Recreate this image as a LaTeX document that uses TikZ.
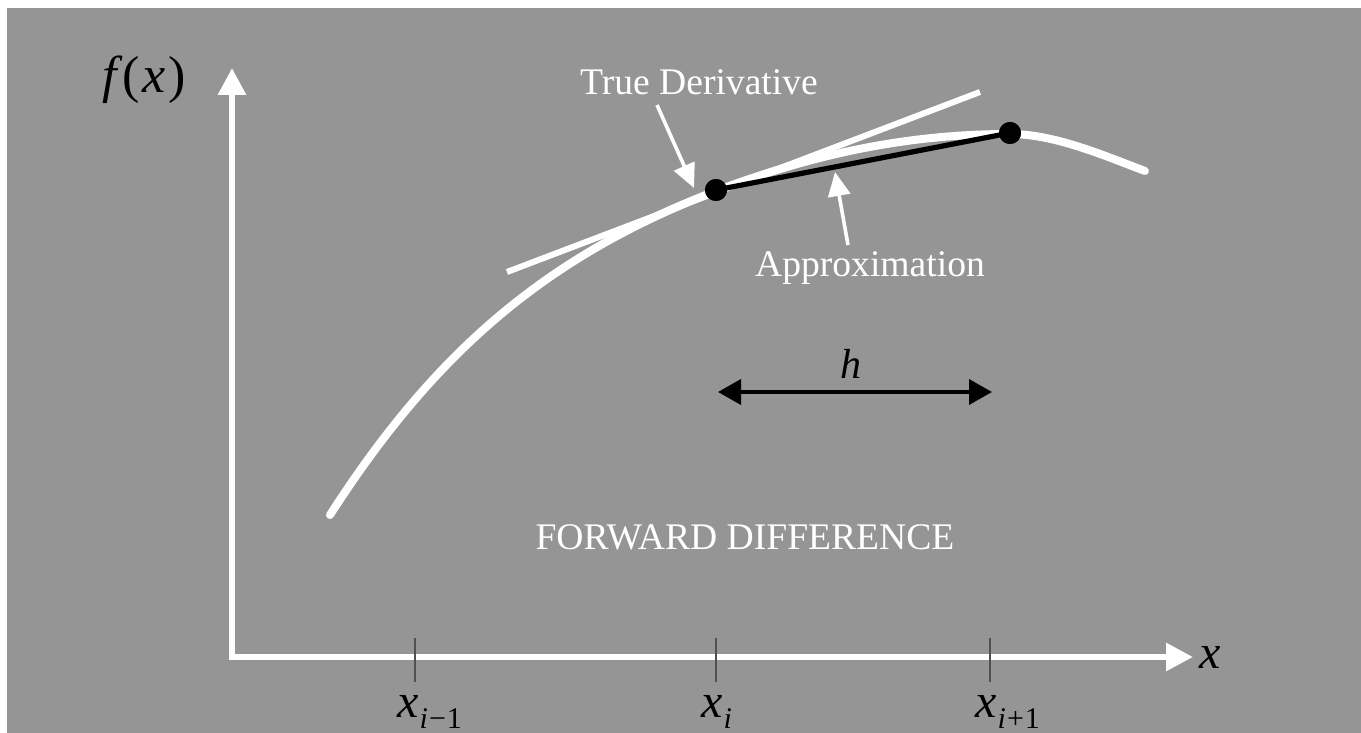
\documentclass[tikz,border=0pt]{standalone}
\usepackage{fontspec}
\setmainfont{Liberation Serif}
\usetikzlibrary{arrows.meta}
\definecolor{bg}{RGB}{149,149,149}
\definecolor{tickc}{RGB}{80,80,80}
\newcommand{\xlab}[1]{{\itshape x}\hspace{0.5pt}\raisebox{-5.5pt}{\fontsize{15}{15}\selectfont #1}}
\begin{document}
\begin{tikzpicture}[x=0.5pt,y=-0.5pt,
  axis/.style={white,line width=3pt,{Triangle[length=13.5pt,width=13.5pt]}-{Triangle[length=13.5pt,width=13.5pt]}},
  tickline/.style={tickc,line width=1.1pt},
  curve/.style={white,line width=4pt,line cap=round},
  tangent/.style={white,line width=3pt},
  approx/.style={black,line width=2.6pt},
  dot/.style={circle,fill=black,inner sep=0pt,minimum size=11pt},
  pointer/.style={white,line width=1.8pt,-{Triangle[length=12pt,width=11pt]}},
  harrow/.style={black,line width=1.8pt,{Triangle[length=11.5pt,width=12.5pt]}-{Triangle[length=11.5pt,width=12.5pt]}},
  wlabel/.style={white,inner sep=0pt,anchor=base,font=\fontsize{18.8}{22}\selectfont},
  mlabel/.style={black,inner sep=0pt,anchor=base west,font=\fontsize{24}{28}\selectfont}]
\useasboundingbox (0,0) rectangle (1361,733);
\fill[white] (0,0) rectangle (1361,733);
\fill[bg] (7,8) rectangle (1361,733);

% axes
\coordinate (ytip) at (232,68);
\coordinate (xtip) at (1193,657);
\draw[axis] (ytip) |- (xtip);

% ticks
\coordinate (t1a) at (415,638); \coordinate (t1b) at (415,682);
\coordinate (t2a) at (716,638); \coordinate (t2b) at (716,682);
\coordinate (t3a) at (990,638); \coordinate (t3b) at (990,682);
\draw[tickline] (t1a) -- (t1b);
\draw[tickline] (t2a) -- (t2b);
\draw[tickline] (t3a) -- (t3b);

% function curve
\coordinate (cs) at (330,515);
\coordinate (ce) at (1145,171);
\draw[curve] (cs) .. controls (434,353) and (546,256) .. (716,191)
  .. controls (816,153) and (910,134) .. (1010,134)
  .. controls (1055,134) and (1105,156) .. (ce);

% tangent line
\coordinate (tanA) at (507,272);
\coordinate (tanB) at (980,92);
\draw[tangent] (tanA) -- (tanB);

% approximation chord and points
\node[dot] (p1) at (716,190) {};
\node[dot] (p2) at (1010,133) {};
\draw[approx] (p1.center) -- (p2.center);
\node[dot] at (p1.center) {};
\node[dot] at (p2.center) {};

% labels with pointers
\node[wlabel] (td) at (699,95) {True Derivative};
\coordinate (tdtail) at (657,105);
\coordinate (tdtip) at (694,188);
\draw[pointer] (tdtail) -- (tdtip);

\node[wlabel] (ap) at (870,277) {Approximation};
\coordinate (aptail) at (848,245);
\coordinate (aptip) at (835,172);
\draw[pointer] (aptail) -- (aptip);

% h arrow
\coordinate (hl) at (718,392);
\coordinate (hr) at (992,392);
\draw[harrow] (hl) -- (hr);
\node[black,inner sep=0pt,anchor=base,font=\fontsize{21}{24}\selectfont\itshape] (h) at (851,378) {h};

\node[wlabel] (fd) at (745,549) {FORWARD DIFFERENCE};

% axis labels
\node[mlabel,font=\fontsize{26}{30}\selectfont] (fx) at (102,93) {{\itshape f}\hspace{3pt}(\hspace{1pt}{\itshape x}\hspace{1.5pt})};
\node[mlabel] (xl) at (1199,668) {{\itshape x}};
\node[mlabel] (x1) at (397,717) {\xlab{{\itshape i}\hspace{0.5pt}−\hspace{0.5pt}1}};
\node[mlabel] (x2) at (701,717) {\xlab{{\itshape i}}};
\node[mlabel] (x3) at (975,717) {\xlab{{\itshape i}\hspace{0.5pt}+\hspace{0.5pt}1}};
\end{tikzpicture}
\end{document}
